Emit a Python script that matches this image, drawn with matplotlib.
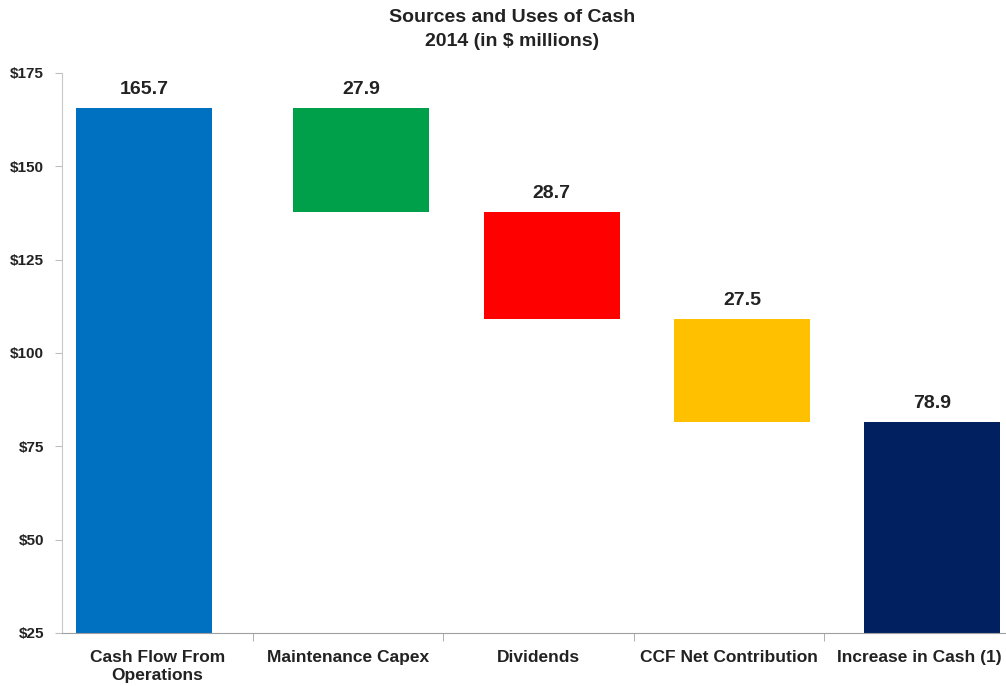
import numpy as np
import matplotlib.pyplot as plt

plt.rcParams['font.family'] = ['Liberation Sans', 'DejaVu Sans']

categories = ["Cash Flow From\nOperations", "Maintenance Capex", "Dividends",
              "CCF Net Contribution", "Increase in Cash (1)"]
start_value = 165.7
uses = [27.9, 28.7, 27.5]
labels = ["165.7", "27.9", "28.7", "27.5", "78.9"]
colors = ["#0070C0", "#00A04A", "#FF0000", "#FFC000", "#002060"]

# waterfall: first bar is the total, then the uses step down, last bar is what's left
ends = start_value - np.cumsum(uses)
tops = [start_value] + [start_value] + list(ends[:-1]) + [ends[-1]]
bottoms = [0] + list(ends) + [0]

fig = plt.figure(figsize=(10.06, 6.86), dpi=100)
ax = fig.add_axes([0.0616, 0.0773, 0.947, 0.8163])

x = np.arange(len(categories))
shift = [-0.07, 0.07, 0.07, 0.07, 0.065]
xb = x + np.array(shift)
heights = np.array(tops) - np.array(bottoms)
ax.bar(xb, heights, bottom=bottoms, width=0.713, color=colors)

for xi, top, lab in zip(xb, tops, labels):
    ax.text(xi, top + 2.6, lab, ha='center', va='bottom',
            fontsize=14, fontweight='bold', color='#222222')

ax.set_xlim(-0.5, 4.5)
ax.set_ylim(25, 175)
ax.set_yticks(np.arange(25, 176, 25))
ax.set_yticklabels(["$%d" % v for v in np.arange(25, 176, 25)],
                   fontsize=11, fontweight='bold', color='#222222')

ax.set_xticks(x)
ax.set_xticklabels(categories, fontsize=12.5, fontweight='bold', color='#222222',
                   linespacing=1.3)
ax.tick_params(axis='x', length=0, pad=12)
ax.set_xticks(np.arange(0.5, 4.5, 1), minor=True)
ax.tick_params(axis='x', which='minor', length=6, color='#A0A0A0', direction='out')
ax.tick_params(axis='y', length=5, color='#BFBFBF', pad=8)

for s in ['top', 'right']:
    ax.spines[s].set_visible(False)
ax.spines['left'].set_color('#C8C8C8')
ax.spines['bottom'].set_color('#A0A0A0')

fig.text(512 / 1006, 1 - 9 / 686, "Sources and Uses of Cash\n2014 (in $ millions)",
         ha='center', va='top', fontsize=14, fontweight='bold', color='#222222',
         linespacing=1.5)

fig.savefig("out.png", dpi=100)
